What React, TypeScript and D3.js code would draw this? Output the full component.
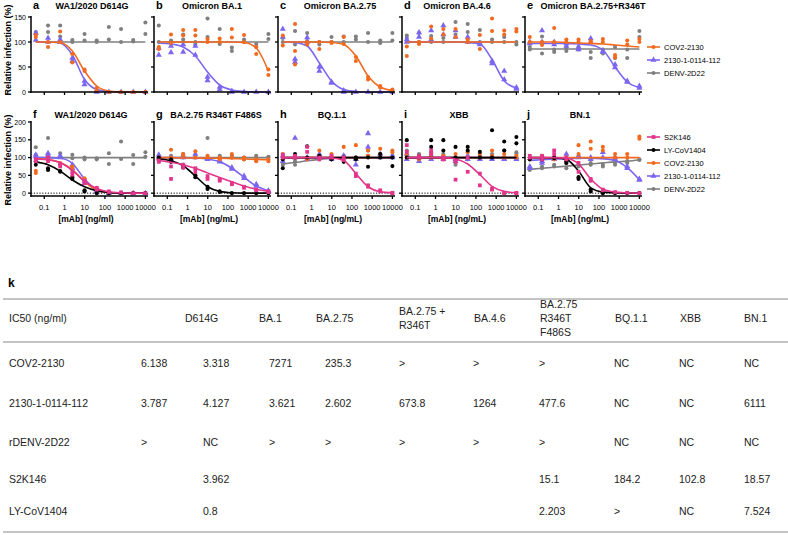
import * as d3 from "d3";

const FONT = "'Liberation Sans', Arial, Helvetica, sans-serif";

// 4-fold dilution series, ng/ml
const conc = [0.038, 0.153, 0.61, 2.44, 9.77, 39.1, 156, 625, 2500, 10000];
const xTicks = [0.1, 1, 10, 100, 1000, 10000];
const xTickLabels = ["0.1", "1", "10", "100", "1000", "10000"];
const yTicksTop = [0, 50, 100, 150];
const yTicksBottom = [0, 50, 100, 150, 200];

const topLetters = ["a", "b", "c", "d", "e"];
const topTitles = ["WA1/2020 D614G", "Omicron BA.1", "Omicron BA.2.75", "Omicron BA.4.6", "Omicron BA.2.75+R346T"];
const bottomLetters = ["f", "g", "h", "i", "j"];
const bottomTitles = ["WA1/2020 D614G", "BA.2.75 R346T F486S", "BQ.1.1", "XBB", "BN.1"];
const bottomXLabels = ["[mAb] (ng/ml)", "[mAb] (ng/mL)", "[mAb] (ng/mL)", "[mAb] (ng/mL)", "[mAb] (ng/mL)"];

const topLegend = ["COV2-2130", "2130-1-0114-112", "DENV-2D22"];
const topLegendKeys = ["cov", "ab2130", "denv"];
const bottomLegend = ["S2K146", "LY-CoV1404", "COV2-2130", "2130-1-0114-112", "DENV-2D22"];
const bottomLegendKeys = ["s2k", "ly", "cov", "ab2130", "denv"];

// ---- panel a: WA1/2020 D614G
const aCovPts = [[114, 110], [90, 100], [121, 100], [76, 59], [42, 45], [8, 3], [0], [0], [0], [0]];
const aCovFit = [100, 100, 99, 82, 42, 12, 2, 0, 0, 0];
const a2130Pts = [[118, 104], [108, 100], [105, 100], [68, 62], [22, 15], [3, 0], [0], [0], [0], [0]];
const a2130Fit = [100, 100, 98, 74, 25, 5, 1, 0, 0, 0];
const aDenvPts = [[120, 116], [133, 120], [133, 111], [104, 100], [116, 103], [103, 100], [130, 105], [126, 100], [104, 101], [139, 116]];
const aDenvFit = [100, 100, 100, 100, 100, 100, 100, 100, 100, 100];

// ---- panel b: Omicron BA.1
const bCovPts = [[90, 86], [115, 98], [124, 113], [124, 113], [106, 100], [107, 100], [126, 109], [114, 100], [76, 90], [45, 34]];
const bCovFit = [100, 100, 100, 100, 100, 100, 100, 99, 88, 42];
const b2130Pts = [[74, 88], [79, 92], [80, 95], [74, 92], [23, 30], [5, 10], [2, 0], [0], [0], [0]];
const b2130Fit = [98, 96, 90, 72, 40, 14, 4, 1, 0, 0];
const bDenvPts = [[133, 100], [103, 100], [115, 105], [100, 95], [147, 110], [126, 96], [89, 82], [105, 100], [96, 90], [116, 106]];
const bDenvFit = [100, 100, 100, 100, 100, 100, 100, 100, 100, 100];

// ---- panel c: Omicron BA.2.75
const cCovPts = [[113, 93], [136, 82, 55], [100, 95], [86, 100], [100, 98], [96, 110], [62, 70], [25, 30], [9, 12], [5, 3]];
const cCovFit = [100, 100, 100, 100, 99, 95, 72, 32, 10, 3];
const c2130Pts = [[126, 110], [66, 60], [109, 100], [42, 50], [20, 18], [3, 0], [0], [0], [0], [0]];
const c2130Fit = [100, 99, 92, 58, 22, 5, 1, 0, 0, 0];
const cDenvPts = [[108, 100], [122, 95], [118, 102], [100, 95], [110, 100], [111, 100], [111, 105], [118, 100], [103, 98], [118, 103]];
const cDenvFit = [100, 100, 100, 100, 100, 100, 100, 100, 100, 100];

// ---- panel d: Omicron BA.4.6
const dCovPts = [[91, 72], [96, 100], [131, 107], [126, 115], [126, 110], [105, 100], [114, 86], [147, 122], [123, 115], [126, 121]];
const dCovFit = [100, 100, 100, 100, 100, 100, 100, 100, 100, 100];
const d2130Pts = [[105, 100], [119, 110], [123, 105], [133, 115], [123, 110], [110, 100], [97, 95], [57, 62], [42, 25], [9, 6]];
const d2130Fit = [100, 100, 100, 100, 100, 99, 96, 65, 22, 8];
const dDenvPts = [[113, 108], [118, 100], [112, 100], [108, 100], [140, 115], [136, 120], [124, 100], [100, 105], [110, 100], [100, 95]];
const dDenvFit = [100, 100, 100, 100, 100, 100, 100, 100, 100, 100];

// ---- panel e: Omicron BA.2.75+R346T
const eCovPts = [[110, 100], [94, 100], [128, 100], [100, 105], [105, 100], [100, 102], [106, 100], [74, 69], [103, 95], [106, 100]];
const eCovFit = [100, 100, 100, 99, 98, 97, 96, 94, 92, 90];
const e2130Pts = [[97, 100], [123, 100], [100, 95], [97, 92], [90, 85], [107, 100], [82, 80], [49, 55], [20, 22], [12, 8]];
const e2130Fit = [97, 97, 97, 97, 96, 94, 84, 50, 20, 9];
const eDenvPts = [[85, 90], [111, 77], [80, 85], [82, 88], [85, 90], [68, 80], [77, 85], [68, 90], [68, 85], [122, 110]];
const eDenvFit = [86, 86, 86, 86, 86, 86, 86, 86, 86, 86];

// ---- panel f: WA1/2020 D614G
const fS2kPts = [[95, 90], [100, 90], [82, 75], [60, 52], [35, 28], [15, 10], [5, 3], [2], [0], [0]];
const fS2kFit = [96, 94, 86, 64, 34, 13, 4, 1, 0, 0];
const fLyPts = [[90, 80], [65, 70], [60, 62], [45, 40], [8, 5], [0], [0], [0], [0], [0]];
const fLyFit = [88, 80, 62, 37, 18, 7, 2, 0, 0, 0];
const fCovPts = [[63, 57], [100, 95], [85, 80], [72, 75], [42, 38], [15, 10], [3], [0], [0], [0]];
const fCovFit = [97, 94, 86, 66, 32, 9, 2, 0, 0, 0];
const f2130Pts = [[108, 103], [112, 107], [105, 100], [80, 70], [35, 28], [8, 5], [0], [0], [0], [0]];
const f2130Fit = [100, 100, 98, 84, 40, 10, 2, 0, 0, 0];
const fDenvPts = [[129, 107], [155, 100], [112, 102], [108, 98], [95, 100], [95, 98], [112, 82], [145, 96], [107, 82], [115, 102]];
const fDenvFit = [100, 100, 100, 100, 100, 100, 100, 100, 100, 100];

// ---- panel g: BA.2.75 R346T F486S
const gS2kPts = [[88, 92], [40, 75], [80, 72], [70, 60], [40, 48], [38, 35], [28, 25], [18, 15], [10, 8], [5, 3]];
const gS2kFit = [92, 87, 80, 70, 57, 44, 32, 20, 11, 5];
const gLyPts = [[100, 92], [95, 88], [72, 80], [50, 45], [18, 12], [5, 3], [0], [0], [0], [0]];
const gLyFit = [96, 91, 77, 48, 18, 5, 1, 0, 0, 0];
const gCovPts = [[100, 95], [122, 100], [110, 105], [118, 100], [100, 105], [95, 100], [110, 100], [100, 95], [90, 95], [95, 90]];
const gCovFit = [100, 100, 99, 99, 98, 98, 97, 96, 95, 94];
const g2130Pts = [[108, 100], [100, 95], [105, 100], [110, 100], [98, 95], [88, 92], [72, 68], [48, 42], [25, 20], [7, 5]];
const g2130Fit = [100, 100, 100, 99, 96, 88, 70, 45, 20, 7];
const gDenvPts = [[100, 95], [105, 100], [100, 110], [105, 100], [155, 100], [100, 105], [105, 100], [100, 95], [105, 100], [100, 102]];
const gDenvFit = [100, 100, 100, 100, 100, 100, 100, 100, 100, 100];

// ---- panel h: BQ.1.1
const hS2kPts = [[108, 100], [100, 105], [130, 116], [100, 95], [105, 100], [100, 93], [48, 55], [18, 22], [8, 5], [1, 0]];
const hS2kFit = [100, 100, 100, 100, 99, 92, 55, 18, 4, 1];
const hLyPts = [[70, 95], [110, 100], [132, 100], [100, 105], [100, 95], [88, 100], [100, 95], [74, 100], [110, 100], [76, 100]];
const hLyFit = [100, 100, 100, 100, 100, 100, 100, 100, 100, 100];
const hCovPts = [[110, 100], [105, 100], [100, 95], [120, 105], [100, 110], [130, 100], [135, 100], [120, 105], [125, 110], [120, 115]];
const hCovFit = [100, 100, 100, 100, 100, 100, 100, 100, 100, 100];
const h2130Pts = [[105, 90], [155, 100], [100, 95], [110, 100], [100, 95], [105, 100], [95, 80], [168, 130], [110, 100], [105, 100]];
const h2130Fit = [100, 100, 100, 100, 100, 100, 100, 100, 100, 100];
const hDenvPts = [[79, 85], [80, 90], [95, 100], [100, 95], [95, 100], [105, 100], [100, 95], [120, 105], [110, 100], [100, 105]];
const hDenvFit = [82, 86, 91, 95, 98, 99, 100, 100, 100, 100];

// ---- panel i: XBB
const iS2kPts = [[135, 116], [100, 105], [120, 110], [100, 95], [88, 38], [60, 100], [55, 22], [13, 10], [1, 0], [1, 0]];
const iS2kFit = [100, 100, 100, 100, 96, 82, 52, 19, 5, 1];
const iLyPts = [[149, 100], [100, 105], [149, 130], [149, 120], [130, 100], [130, 120], [116, 100], [177, 100], [145, 120], [158, 140]];
const iLyFit = [100, 100, 100, 100, 100, 100, 100, 100, 100, 100];
const iCovPts = [[100, 110], [105, 95], [100, 110], [95, 105], [100, 110], [115, 100], [100, 110], [120, 105], [100, 110], [105, 100]];
const iCovFit = [100, 100, 100, 100, 100, 100, 100, 100, 100, 100];
const i2130Pts = [[110, 95], [90, 100], [105, 95], [100, 95], [90, 95], [105, 95], [100, 95], [95, 100], [100, 95], [100, 95]];
const i2130Fit = [100, 100, 100, 100, 100, 100, 100, 100, 100, 100];
const iDenvPts = [[120, 105], [110, 100], [115, 105], [105, 110], [80, 100], [95, 100], [100, 105], [110, 100], [100, 120], [115, 110]];
const iDenvFit = [100, 100, 100, 100, 100, 100, 100, 100, 100, 100];

// ---- panel j: BN.1
const jS2kPts = [[100, 105], [95, 105], [120, 110], [100, 95], [60, 85], [35, 40], [10, 8], [3], [1], [0]];
const jS2kFit = [100, 100, 100, 98, 82, 40, 11, 3, 1, 0];
const jLyPts = [[100, 95], [95, 100], [98, 100], [85, 90], [45, 40], [10, 5], [2, 0], [0], [0], [0]];
const jLyFit = [100, 100, 99, 95, 62, 15, 3, 1, 0, 0];
const jCovPts = [[95, 100], [100, 105], [95, 100], [100, 95], [135, 110], [145, 125], [130, 120], [110, 100], [100, 110], [159, 153]];
const jCovFit = [100, 100, 100, 100, 100, 100, 100, 100, 100, 100];
const j2130Pts = [[70, 75], [85, 90], [95, 100], [110, 100], [105, 100], [100, 95], [115, 100], [95, 100], [70, 75], [37, 40]];
const j2130Fit = [92, 94, 96, 97, 98, 98, 97, 92, 72, 38];
const jDenvPts = [[65, 70], [75, 70], [80, 75], [70, 85], [75, 80], [85, 80], [75, 80], [80, 85], [90, 85], [93, 95]];
const jDenvFit = [67, 70, 73, 76, 79, 82, 85, 88, 90, 93];

// ---- table k
const tableHeaders = [["IC50 (ng/ml)"], ["D614G"], ["BA.1"], ["BA.2.75"], ["BA.2.75 +", "R346T"], ["BA.4.6"], ["BA.2.75", "R346T", "F486S"], ["BQ.1.1"], ["XBB"], ["BN.1"]];
const tableRowNames = ["COV2-2130", "2130-1-0114-112", "rDENV-2D22", "S2K146", "LY-CoV1404"];
const tableCov = ["6.138", "3.318", "7271", "235.3", ">", ">", ">", "NC", "NC", "NC"];
const table2130 = ["3.787", "4.127", "3.621", "2.602", "673.8", "1264", "477.6", "NC", "NC", "6111"];
const tableDenv = [">", "NC", ">", ">", ">", ">", ">", "NC", "NC", "NC"];
const tableS2k = ["", "3.962", "", "", "", "", "15.1", "184.2", "102.8", "18.57"];
const tableLy = ["", "0.8", "", "", "", "", "2.203", ">", "NC", "7.524"];

// ---- styles / layout
const style: Record<string, { color: string; shape: string }> = {
  cov: { color: "#F26A1F", shape: "circle" },
  ab2130: { color: "#7B66F2", shape: "triangle" },
  denv: { color: "#7F7F7F", shape: "circle" },
  s2k: { color: "#E2358B", shape: "square" },
  ly: { color: "#000000", shape: "circle" },
};
const panelLefts = [31, 154, 278, 402, 525];
const topTitleDx = [61, 58, 62, 55, 68];
const bottomTitleDx = [60, 62, 54, 57, 55];
const plotW = 116;
const headerX = [9, 185, 259, 316, 399, 474, 540, 615, 680, 744];
const valueX = [141, 203, 269, 325, 399, 473, 539, 614, 679, 744];

function sym(shape: string) {
  if (shape === "triangle") return d3.symbol().type(d3.symbolTriangle).size(16)();
  if (shape === "square") return d3.symbol().type(d3.symbolSquare).size(14)();
  return d3.symbol().type(d3.symbolCircle).size(13)();
}

type Series = { key: string; pts: number[][]; fit: number[] };

function Panel({ left, top, letter, title, titleDx, series, showY, xLabel }: any) {
  const x = d3.scaleLog().domain([0.022, 12000]).range([left, left + plotW]);
  const y = top
    ? d3.scaleLinear().domain([0, 150]).range([92, 17])
    : d3.scaleLinear().domain([-8, 200]).range([196, 122]);
  const axisY = top ? 92 : 196;
  const yTicks = top ? yTicksTop : yTicksBottom;
  const line = d3
    .line<number>()
    .x((_, i) => x(conc[i]))
    .y((d) => y(d))
    .curve(d3.curveMonotoneX);

  return (
    <g>
      <text x={left + 2} y={top ? 9 : 118} fontSize={11} fontWeight="bold" fontFamily={FONT}>
        {letter}
      </text>
      <text x={left + titleDx} y={top ? 9 : 118} fontSize={9} fontWeight="bold" textAnchor="middle" fontFamily={FONT}>
        {title}
      </text>

      {!top && (
        <line x1={left} x2={left + plotW} y1={y(0)} y2={y(0)} stroke="#000" strokeWidth={1} strokeDasharray="1.2,1.6" />
      )}

      {(series as Series[]).map((s) => {
        const st = style[s.key];
        const d = sym(st.shape);
        return (
          <g key={s.key}>
            {s.pts.map((vals, i) =>
              vals.map((v, j) => (
                <path key={i + "-" + j} d={d!} transform={`translate(${x(conc[i])},${y(v)})`} fill={st.color} />
              ))
            )}
            <path d={line(s.fit)!} fill="none" stroke={st.color} strokeWidth={1.6} />
          </g>
        );
      })}

      {/* axes */}
      <line x1={left} x2={left} y1={axisY + 0.75} y2={y(top ? 150 : 200) - 1} stroke="#000" strokeWidth={1.5} />
      {yTicks.map((t) => (
        <g key={t}>
          <line x1={left - 3} x2={left} y1={y(t)} y2={y(t)} stroke="#000" strokeWidth={1.3} />
          {showY && (
            <text x={left - 5} y={y(t) + 2.5} fontSize={7} textAnchor="end" fontFamily={FONT}>
              {t}
            </text>
          )}
        </g>
      ))}
      <line x1={left - 0.75} x2={left + plotW + 1} y1={axisY} y2={axisY} stroke="#000" strokeWidth={1.5} />
      {xTicks.map((t, i) => (
        <g key={t}>
          <line x1={x(t)} x2={x(t)} y1={axisY} y2={axisY + 3} stroke="#000" strokeWidth={1.3} />
          {!top && (
            <text x={x(t)} y={axisY + 14} fontSize={7.5} textAnchor="middle" fontFamily={FONT}>
              {xTickLabels[i]}
            </text>
          )}
        </g>
      ))}
      {!top && (
        <text x={left + 55} y={222} fontSize={8.5} fontWeight="bold" textAnchor="middle" fontFamily={FONT}>
          {xLabel}
        </text>
      )}
    </g>
  );
}

function Legend({ names, keys, y0, step }: any) {
  return (
    <g>
      {names.map((n: string, i: number) => {
        const st = style[keys[i]];
        const yy = y0 + i * step;
        return (
          <g key={n}>
            <line x1={647} x2={660} y1={yy} y2={yy} stroke={st.color} strokeWidth={1.6} />
            <path d={sym(st.shape)!} transform={`translate(653.5,${yy})`} fill={st.color} />
            <text x={664} y={yy + 2.7} fontSize={7.5} fontFamily={FONT}>
              {n}
            </text>
          </g>
        );
      })}
    </g>
  );
}

export default function App() {
  const topSeries: Series[][] = [
    [{ key: "denv", pts: aDenvPts, fit: aDenvFit }, { key: "ab2130", pts: a2130Pts, fit: a2130Fit }, { key: "cov", pts: aCovPts, fit: aCovFit }],
    [{ key: "denv", pts: bDenvPts, fit: bDenvFit }, { key: "ab2130", pts: b2130Pts, fit: b2130Fit }, { key: "cov", pts: bCovPts, fit: bCovFit }],
    [{ key: "denv", pts: cDenvPts, fit: cDenvFit }, { key: "ab2130", pts: c2130Pts, fit: c2130Fit }, { key: "cov", pts: cCovPts, fit: cCovFit }],
    [{ key: "denv", pts: dDenvPts, fit: dDenvFit }, { key: "ab2130", pts: d2130Pts, fit: d2130Fit }, { key: "cov", pts: dCovPts, fit: dCovFit }],
    [{ key: "denv", pts: eDenvPts, fit: eDenvFit }, { key: "ab2130", pts: e2130Pts, fit: e2130Fit }, { key: "cov", pts: eCovPts, fit: eCovFit }],
  ];
  const bottomSeries: Series[][] = [
    [{ key: "denv", pts: fDenvPts, fit: fDenvFit }, { key: "ab2130", pts: f2130Pts, fit: f2130Fit }, { key: "cov", pts: fCovPts, fit: fCovFit }, { key: "ly", pts: fLyPts, fit: fLyFit }, { key: "s2k", pts: fS2kPts, fit: fS2kFit }],
    [{ key: "denv", pts: gDenvPts, fit: gDenvFit }, { key: "ab2130", pts: g2130Pts, fit: g2130Fit }, { key: "cov", pts: gCovPts, fit: gCovFit }, { key: "ly", pts: gLyPts, fit: gLyFit }, { key: "s2k", pts: gS2kPts, fit: gS2kFit }],
    [{ key: "denv", pts: hDenvPts, fit: hDenvFit }, { key: "ab2130", pts: h2130Pts, fit: h2130Fit }, { key: "cov", pts: hCovPts, fit: hCovFit }, { key: "ly", pts: hLyPts, fit: hLyFit }, { key: "s2k", pts: hS2kPts, fit: hS2kFit }],
    [{ key: "denv", pts: iDenvPts, fit: iDenvFit }, { key: "ab2130", pts: i2130Pts, fit: i2130Fit }, { key: "cov", pts: iCovPts, fit: iCovFit }, { key: "ly", pts: iLyPts, fit: iLyFit }, { key: "s2k", pts: iS2kPts, fit: iS2kFit }],
    [{ key: "denv", pts: jDenvPts, fit: jDenvFit }, { key: "ab2130", pts: j2130Pts, fit: j2130Fit }, { key: "cov", pts: jCovPts, fit: jCovFit }, { key: "ly", pts: jLyPts, fit: jLyFit }, { key: "s2k", pts: jS2kPts, fit: jS2kFit }],
  ];
  const tableRows = [tableCov, table2130, tableDenv, tableS2k, tableLy];
  const rowY = [367, 407, 446, 483, 515];
  const lh = 14;
  const headerMid = 322;

  return (
    <svg width={788} height={535} style={{ position: "absolute", left: 0, top: 0, background: "#fff" }}>
      <text transform="translate(11,50) rotate(-90)" fontSize={9} fontWeight="bold" textAnchor="middle" fontFamily={FONT}>
        Relative infection (%)
      </text>
      <text transform="translate(11,160) rotate(-90)" fontSize={9} fontWeight="bold" textAnchor="middle" fontFamily={FONT}>
        Relative infection (%)
      </text>
      {topSeries.map((s, i) => (
        <Panel key={"t" + i} left={panelLefts[i]} top={true} letter={topLetters[i]} title={topTitles[i]} titleDx={topTitleDx[i]} series={s} showY={i === 0} />
      ))}
      {bottomSeries.map((s, i) => (
        <Panel key={"b" + i} left={panelLefts[i]} top={false} letter={bottomLetters[i]} title={bottomTitles[i]} titleDx={bottomTitleDx[i]} series={s} showY={i === 0} xLabel={bottomXLabels[i]} />
      ))}
      <Legend names={topLegend} keys={topLegendKeys} y0={47} step={13} />
      <Legend names={bottomLegend} keys={bottomLegendKeys} y0={137} step={13} />

      {/* table k */}
      <text x={8} y={287} fontSize={12} fontWeight="bold" fontFamily={FONT}>k</text>
      <line x1={3} x2={788} y1={299} y2={299} stroke="#888" strokeWidth={1} />
      {tableHeaders.map((h, i) => {
        const y0 = headerMid - ((h.length - 1) * lh) / 2;
        return (
          <text key={i} fontSize={10.5} fontFamily={FONT} fill="#222">
            {h.map((t, j) => (
              <tspan key={j} x={headerX[i]} y={y0 + j * lh}>{t}</tspan>
            ))}
          </text>
        );
      })}
      <line x1={3} x2={788} y1={342} y2={342} stroke="#888" strokeWidth={1} />
      {tableRowNames.map((n, r) => (
        <g key={n}>
          <text x={9} y={rowY[r]} fontSize={10.5} fontFamily={FONT} fill="#222">{n}</text>
          {tableRows[r].map((v, c) => (
            <text key={c} x={valueX[c]} y={rowY[r]} fontSize={10.5} fontFamily={FONT} fill="#222">{v}</text>
          ))}
        </g>
      ))}
      <line x1={3} x2={788} y1={532} y2={532} stroke="#888" strokeWidth={1} />
    </svg>
  );
}
